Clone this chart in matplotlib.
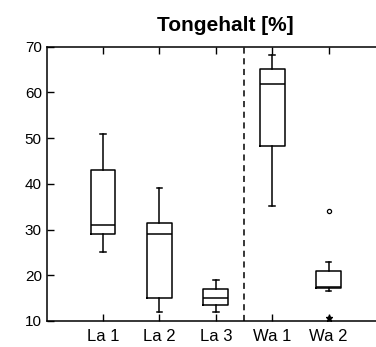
import matplotlib
matplotlib.use('Agg')
import matplotlib.pyplot as plt

labels = ['La 1', 'La 2', 'La 3', 'Wa 1', 'Wa 2']
whislo = [25, 12, 12, 35.2, 16.6]
q1 = [29, 15, 13.4, 48.2, 17.3]
med = [31, 29, 15, 61.8, 17.5]
q3 = [43, 31.4, 16.9, 65.1, 21]
whishi = [51, 39, 19, 68.2, 23]
outliers_circle = [[], [], [], [], [34]]
outliers_star = [[], [], [], [], [10.6]]

plt.rcParams['font.family'] = ['Liberation Sans', 'DejaVu Sans']

fig = plt.figure(figsize=(3.76, 3.47), dpi=100)
ax = fig.add_axes([46.7/376, 1-321/347, (385-46.7)/376, (321-46.7)/347])

stats = []
for i in range(len(labels)):
    stats.append(dict(whislo=whislo[i], q1=q1[i], med=med[i], q3=q3[i],
                      whishi=whishi[i], fliers=outliers_circle[i], label=labels[i]))

ax.bxp(stats, positions=range(1, 6), widths=0.44, capwidths=0.1,
       boxprops=dict(color='k', lw=1.1),
       medianprops=dict(color='k', lw=1.1),
       whiskerprops=dict(color='k', lw=1.1, ls='-'),
       capprops=dict(color='k', lw=1.1),
       flierprops=dict(marker='o', markersize=3, markerfacecolor='none',
                       markeredgecolor='k', markeredgewidth=0.9))

for i, vals in enumerate(outliers_star):
    for v in vals:
        ax.plot(i + 1, v, marker='*', color='k', markersize=5, clip_on=False)

ax.axvline(3.5, color='k', ls='--', lw=1.1, dashes=(4, 3))

ax.set_xlim(0, 6)
ax.set_ylim(10, 70)
ax.set_yticks([10, 20, 30, 40, 50, 60, 70])
ax.set_xticks(range(1, 6))
ax.set_xticklabels(labels)
ax.tick_params(direction='in', length=5, width=1, top=True, right=True)
ax.tick_params(axis='x', labelsize=12, pad=6)
ax.tick_params(axis='y', labelsize=11, pad=3.5)
for s in ax.spines.values():
    s.set_linewidth(1.1)

ax.set_title('Tongehalt [%]', fontsize=15, fontweight='bold', pad=11,
             x=(225-46.7)/(385-46.7))

fig.savefig('out.png', dpi=100)
